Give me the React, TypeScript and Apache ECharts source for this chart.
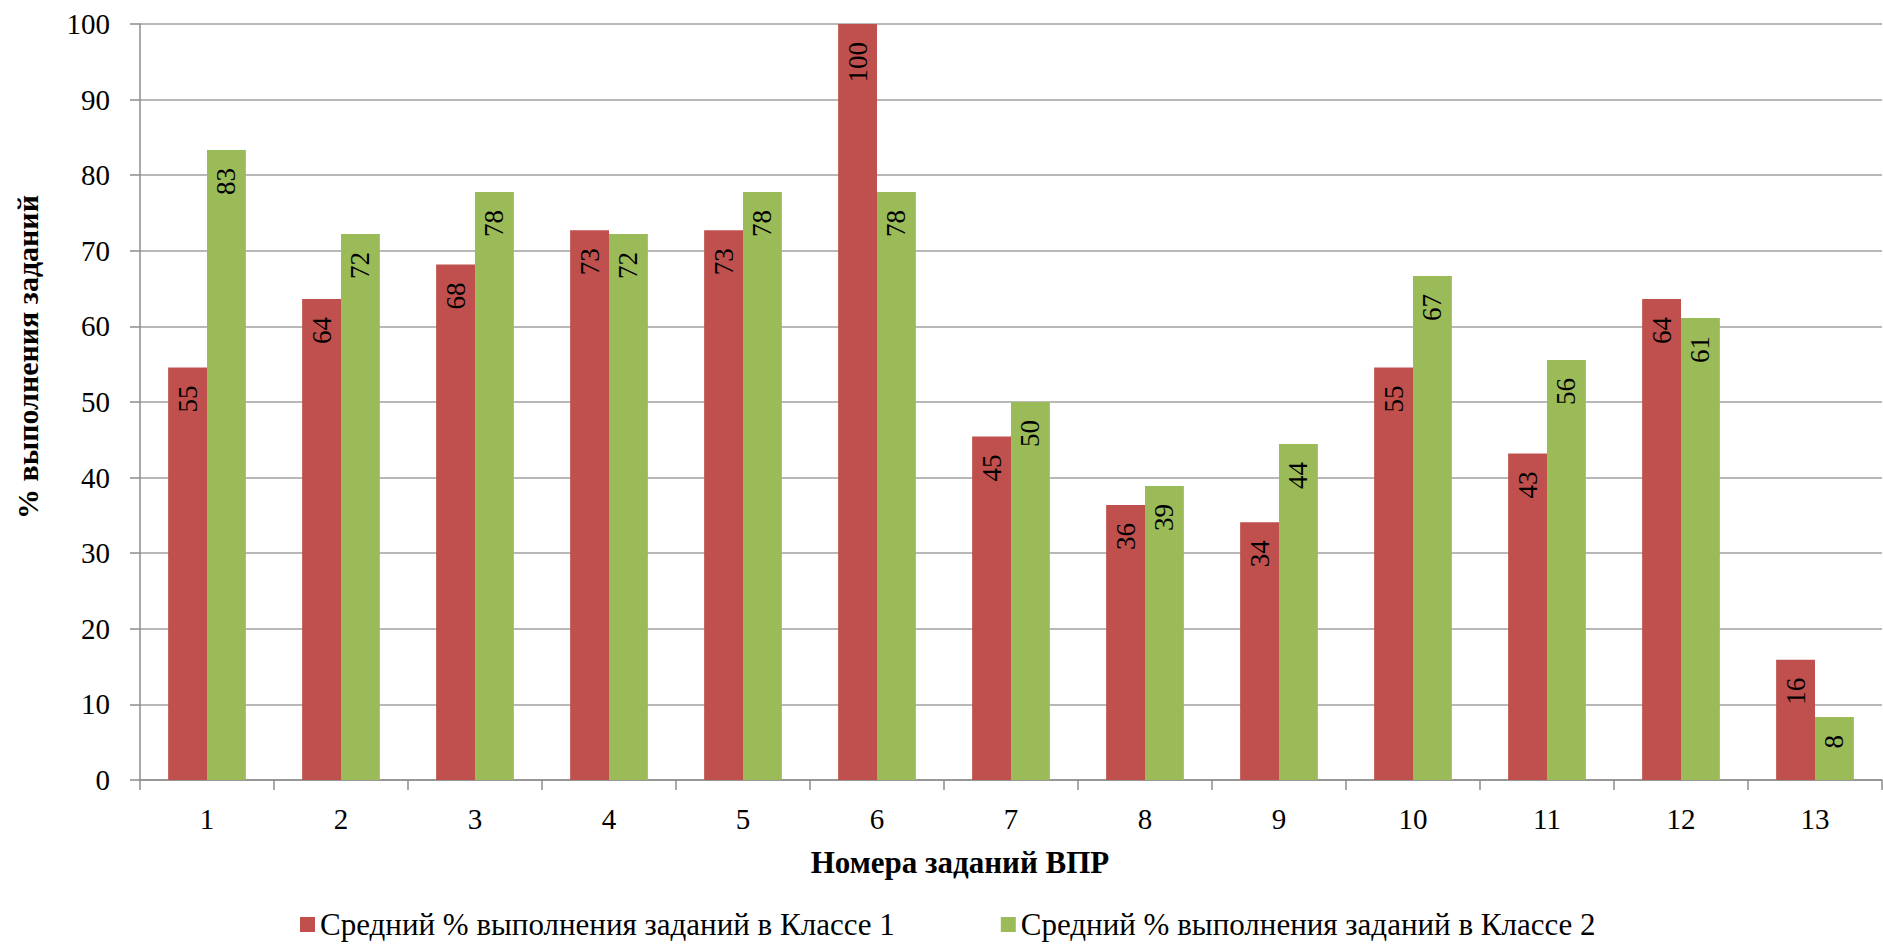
import React, { useEffect, useRef } from "react";
import * as echarts from "echarts";

const categories = ["1", "2", "3", "4", "5", "6", "7", "8", "9", "10", "11", "12", "13"];
const class1Values = [54.55, 63.64, 68.18, 72.73, 72.73, 100, 45.45, 36.36, 34.09, 54.55, 43.18, 63.64, 15.91];
const class2Values = [83.33, 72.22, 77.78, 72.22, 77.78, 77.78, 50, 38.89, 44.44, 66.67, 55.56, 61.11, 8.33];
const seriesNames = [
  "Средний % выполнения заданий в Классе 1",
  "Средний % выполнения заданий в Классе 2",
];
const xTitle = "Номера заданий ВПР";
const yTitle = "% выполнения заданий";

const FONT = "Liberation Serif";

export default function App() {
  const ref = useRef<HTMLDivElement>(null);
  useEffect(() => {
    if (!ref.current) return;
    const chart = echarts.init(ref.current, undefined, { renderer: "svg" });
    const label = {
      show: true,
      position: "insideTop",
      distance: 18,
      rotate: 90,
      align: "right",
      verticalAlign: "middle",
      color: "#000",
      fontFamily: FONT,
      fontSize: 27,
      formatter: (p: any) => String(Math.round(p.value)),
    };
    chart.setOption({
      animation: false,
      backgroundColor: "#fff",
      textStyle: { fontFamily: FONT },
      grid: { left: 140, right: 1, top: 24, bottom: 168, containLabel: false },
      legend: {
        left: 295,
        top: 904,
        itemWidth: 15,
        itemHeight: 15,
        itemGap: 106,
        icon: "rect",
        textStyle: { fontFamily: FONT, fontSize: 31, color: "#000" },
        data: seriesNames,
      },
      xAxis: {
        type: "category",
        data: categories,
        axisLine: { lineStyle: { color: "#8c8c8c", width: 1.5 } },
        axisTick: { show: true, alignWithLabel: false, length: 10, lineStyle: { color: "#8c8c8c", width: 1.5 } },
        axisLabel: { fontFamily: FONT, fontSize: 29, color: "#000", margin: 24 },
      },
      yAxis: {
        type: "value",
        min: 0,
        max: 100,
        interval: 10,
        axisLine: { show: true, lineStyle: { color: "#8c8c8c", width: 1.5 } },
        axisTick: { show: true, length: 10, lineStyle: { color: "#8c8c8c", width: 1.5 } },
        axisLabel: { fontFamily: FONT, fontSize: 29, color: "#000", margin: 30 },
        splitLine: { show: true, lineStyle: { color: "#a0a0a0", width: 1.5 } },
      },
      series: [
        {
          name: seriesNames[0],
          type: "bar",
          data: class1Values,
          itemStyle: { color: "#C0504D" },
          barGap: "0%",
          barCategoryGap: "42%",
          label,
        },
        {
          name: seriesNames[1],
          type: "bar",
          data: class2Values,
          itemStyle: { color: "#9BBB59" },
          barGap: "0%",
          barCategoryGap: "42%",
          label,
        },
      ],
      graphic: [
        {
          type: "text",
          x: 27,
          y: 357,
          rotation: Math.PI / 2,
          style: {
            text: yTitle,
            fontFamily: FONT,
            fontSize: 30,
            fontWeight: "bold",
            fill: "#000",
            align: "center",
            verticalAlign: "middle",
          },
        },
        {
          type: "text",
          x: 960,
          y: 862,
          style: {
            text: xTitle,
            fontFamily: FONT,
            fontSize: 31,
            fontWeight: "bold",
            fill: "#000",
            align: "center",
            verticalAlign: "middle",
          },
        },
      ],
    });
    return () => chart.dispose();
  }, []);
  return (
    <div
      ref={ref}
      style={{ position: "fixed", left: 0, top: 0, width: 1883, height: 948 }}
    />
  );
}
